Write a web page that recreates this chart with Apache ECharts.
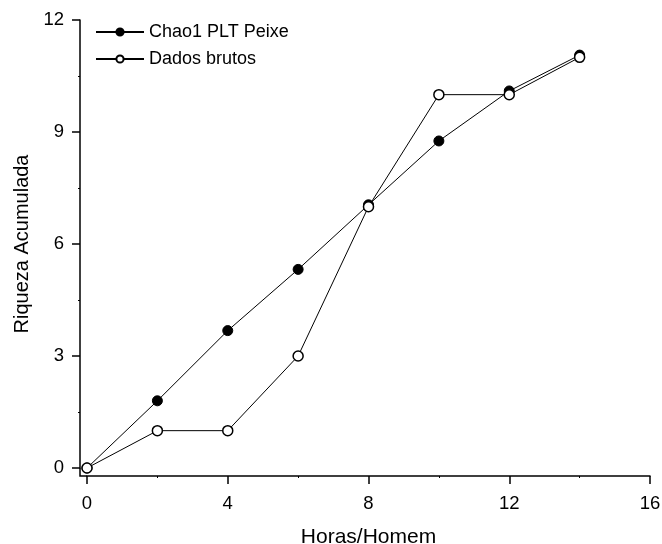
<!DOCTYPE html>
<html>
<head>
<meta charset="utf-8">
<script src="https://cdn.jsdelivr.net/npm/echarts@6/dist/echarts.min.js"></script>
<style>
  html, body { margin: 0; padding: 0; background: #fff; }
  #chart { width: 662px; height: 544px; }
</style>
</head>
<body>
<div id="chart"></div>
<script>
// esforço amostral (horas/homem)
const horas = [0, 2, 4, 6, 8, 10, 12, 14];
// riqueza estimada Chao1
const chao1 = [0, 1.8, 3.68, 5.32, 7.05, 8.76, 10.1, 11.06];
// riqueza observada
const brutos = [0, 1, 1, 3, 7, 10, 10, 11];

const serieNomes = ['Chao1 PLT Peixe', 'Dados brutos'];
const font = 'Liberation Sans, Arial, sans-serif';

const chart = echarts.init(document.getElementById('chart'), null, { renderer: 'canvas' });

const axisCommon = {
  axisLine: { show: true, onZero: false, lineStyle: { color: '#000', width: 1.5 } },
  axisTick: { show: true, inside: false, length: 8, lineStyle: { color: '#000', width: 1.5 } },
  minorTick: { show: true, splitNumber: 2, length: 2, lineStyle: { color: '#000', width: 1 } },
  splitLine: { show: false },
  nameLocation: 'middle',
};

chart.setOption({
  backgroundColor: '#fff',
  animation: false,
  grid: { left: 87, right: 12, top: 20, bottom: 76, containLabel: false, outerBoundsMode: 'none' },
  legend: {
    orient: 'vertical',
    left: 90,
    top: 18,
    data: serieNomes,
    itemWidth: 48,
    itemHeight: 9,
    itemGap: 9,
    textStyle: { color: '#000', fontSize: 18, fontFamily: font },
  },
  xAxis: {
    ...axisCommon,
    type: 'value',
    min: 0,
    max: 16,
    interval: 4,
    offset: 8,
    name: 'Horas/Homem',
    nameGap: 51,
    nameTextStyle: { color: '#000', fontSize: 21, fontFamily: font },
    axisLabel: { color: '#000', fontSize: 18.5, fontFamily: font, margin: 18 },
  },
  yAxis: {
    ...axisCommon,
    type: 'value',
    min: 0,
    max: 12,
    interval: 3,
    offset: 7,
    name: 'Riqueza Acumulada',
    nameGap: 45,
    nameTextStyle: { color: '#000', fontSize: 20, fontFamily: font },
    axisLabel: { color: '#000', fontSize: 18.5, fontFamily: font, margin: 16 },
  },
  series: [
    {
      name: serieNomes[0],
      type: 'line',
      data: horas.map((h, i) => [h, chao1[i]]),
      symbol: 'circle',
      symbolSize: 10,
      itemStyle: { color: '#000', borderColor: '#000', borderWidth: 1 },
      lineStyle: { color: '#000', width: 1 },
      z: 2,
    },
    {
      name: serieNomes[1],
      type: 'line',
      data: horas.map((h, i) => [h, brutos[i]]),
      symbol: 'circle',
      symbolSize: 10,
      itemStyle: { color: '#fff', borderColor: '#000', borderWidth: 1.5 },
      lineStyle: { color: '#000', width: 1 },
      z: 3,
    },
  ],
});

// liga os eixos deslocados no canto inferior esquerdo
const origem = chart.convertToPixel({ gridIndex: 0 }, [0, 0]);
chart.setOption({
  graphic: [{
    type: 'polyline',
    shape: { points: [[origem[0] - 7, origem[1]], [origem[0] - 7, origem[1] + 8], [origem[0], origem[1] + 8]] },
    style: { stroke: '#000', lineWidth: 1.5, fill: null },
    silent: true,
  }],
});
</script>
</body>
</html>
